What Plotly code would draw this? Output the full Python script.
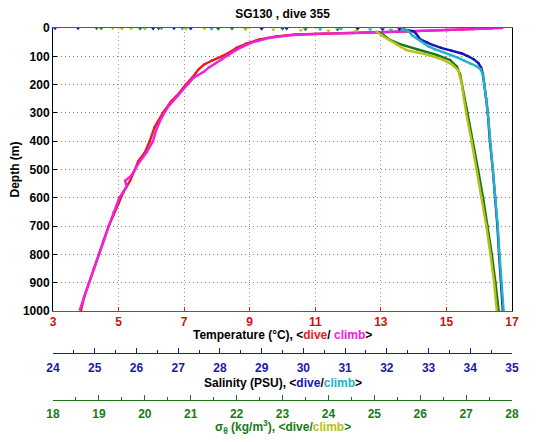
import plotly.graph_objects as go

# ---------------- data ----------------
# Temperature (dive, red)
temp_dive_depth = [1, 4, 8, 12, 16, 19, 23, 30, 40, 55, 70, 85, 100, 115, 130, 145, 160, 175, 200, 230, 260, 300,
                   350, 400, 440, 470, 500, 540, 580, 620, 660, 700, 750, 800, 850, 900, 950, 1000]
temp_dive = [16.4, 15.8, 15.0, 13.9, 12.6, 11.3, 10.4, 9.8, 9.3, 8.9, 8.6, 8.4, 8.15, 7.85, 7.6, 7.45, 7.35, 7.25,
             7.05, 6.85, 6.6, 6.35, 6.1, 5.95, 5.8, 5.6, 5.5, 5.35, 5.15, 5.0, 4.85, 4.7, 4.55, 4.4, 4.25, 4.1, 3.95,
             3.85]
# Temperature (climb, magenta)
temp_climb_depth = [0, 2, 5, 8, 11, 14, 17, 20, 25, 35, 50, 65, 80, 95, 110, 125, 140, 155, 175, 200, 240, 280,
                    320, 360, 400, 440, 480, 520, 540, 560, 600, 650, 700, 750, 800, 850, 900, 950, 995]
temp_climb = [16.7, 16.2, 15.5, 14.8, 14.1, 13.5, 12.5, 11.2, 10.3, 9.6, 9.1, 8.8, 8.55, 8.35, 8.15, 7.95, 7.75,
              7.6, 7.3, 7.1, 6.8, 6.5, 6.3, 6.15, 6.05, 5.85, 5.6, 5.4, 5.2, 5.25, 5.02, 4.85, 4.7, 4.55, 4.4, 4.25,
              4.1, 3.95, 3.82]

# Salinity (dive, blue)
sal_dive_depth = [5, 12, 20, 30, 40, 50, 60, 70, 80, 90, 100, 110, 125, 140, 160, 180, 200, 250, 300, 400, 500,
                  600, 700, 800, 900, 1000]
sal_dive = [32.4, 32.65, 32.7, 32.75, 32.8, 32.95, 33.1, 33.3, 33.55, 33.8, 33.95, 34.08, 34.2, 34.26, 34.3,
            34.32, 34.34, 34.38, 34.42, 34.47, 34.54, 34.6, 34.65, 34.69, 34.74, 34.78]
# Salinity (climb, cyan)
sal_climb_depth = [3, 10, 16, 25, 35, 45, 55, 65, 75, 85, 95, 105, 115, 125, 135, 145, 160, 180, 200, 250, 300,
                   400, 500, 600, 700, 800, 900, 1000]
sal_climb = [32.3, 32.5, 32.55, 32.6, 32.7, 32.8, 32.9, 33.0, 33.15, 33.35, 33.55, 33.7, 33.85, 34.0, 34.15,
             34.24, 34.29, 34.32, 34.34, 34.38, 34.42, 34.48, 34.55, 34.61, 34.66, 34.7, 34.75, 34.8]

# Sigma-theta (dive, green)
sig_dive_depth = [14, 25, 42, 57, 75, 95, 113, 137, 165, 195, 250, 300, 400, 500, 600, 700, 800, 900, 1000]
sig_dive = [25.08, 25.2, 25.34, 25.56, 25.93, 26.36, 26.65, 26.8, 26.87, 26.91, 26.97, 27.03, 27.15, 27.26,
            27.37, 27.47, 27.56, 27.64, 27.71]
# Sigma-theta (climb, yellow)
sig_climb_depth = [12, 25, 40, 60, 78, 95, 113, 130, 150, 195, 250, 300, 400, 500, 600, 700, 800, 900, 1000]
sig_climb = [25.05, 25.15, 25.3, 25.5, 25.7, 26.17, 26.5, 26.7, 26.83, 26.9, 26.95, 27.0, 27.12, 27.23, 27.34,
             27.44, 27.53, 27.61, 27.67]

# Scattered near-surface samples
sal_surf_dive = [24.05, 24.6, 26.4, 26.9, 27.3, 29.0, 29.6, 31.3, 31.9, 32.3]
sal_surf_dive_depth = [1, 1, 2, 1, 2, 3, 2, 3, 4, 4]
sal_surf_climb = [26.2, 26.6, 27.1, 27.8, 28.6, 30.4, 30.9, 31.6, 32.1]
sal_surf_climb_depth = [2, 1, 2, 3, 2, 4, 3, 5, 6]
sig_surf_dive = [18.95, 19.05, 19.9, 20.3, 21.6, 21.9, 23.0, 23.5, 24.2]
sig_surf_dive_depth = [1, 1, 2, 2, 3, 2, 3, 4, 5]
sig_surf_climb = [19.3, 19.5, 19.7, 20.0, 20.9, 21.3, 22.2, 22.8, 23.4, 24.0, 24.6]
sig_surf_climb_depth = [1, 2, 2, 1, 3, 2, 4, 5, 8, 10, 11]

temp_ticks = [3, 5, 7, 9, 11, 13, 15, 17]
sal_ticks = list(range(24, 36))
sig_ticks = list(range(18, 29))
depth_ticks = list(range(0, 1001, 100))

# ---------------- colours ----------------
RED = "#ea1c1c"
MAG = "#ee22dd"
BLUE = "#1616b8"
CYAN = "#22b2c8"
GREEN = "#1a781a"
YEL = "#b8c018"
TRED = "#d01010"
TBLUE = "#1a1aa8"
TGREEN = "#1a7a1a"

FONT = "Liberation Sans"

fig = go.Figure()

def line(x, y, color, xaxis):
    fig.add_trace(go.Scatter(x=x, y=y, mode="lines+markers", xaxis=xaxis, yaxis="y",
                             line=dict(color=color, width=2.4),
                             marker=dict(color=color, size=2.5), showlegend=False))

def pts(x, y, color, xaxis):
    fig.add_trace(go.Scatter(x=x, y=y, mode="markers", xaxis=xaxis, yaxis="y",
                             marker=dict(color=color, size=4, symbol="triangle-down"), showlegend=False))

line(sal_dive, sal_dive_depth, BLUE, "x2")
line(sal_climb, sal_climb_depth, CYAN, "x2")
line(sig_dive, sig_dive_depth, GREEN, "x3")
line(sig_climb, sig_climb_depth, YEL, "x3")
line(temp_dive, temp_dive_depth, RED, "x")
line(temp_climb, temp_climb_depth, MAG, "x")
pts(sal_surf_dive, sal_surf_dive_depth, BLUE, "x2")
pts(sal_surf_climb, sal_surf_climb_depth, CYAN, "x2")
pts(sig_surf_dive, sig_surf_dive_depth, GREEN, "x3")
pts(sig_surf_climb, sig_surf_climb_depth, YEL, "x3")

# The page body has an 8px margin: figure coords = screen coords - 8
OFF = 8
W, H = 543 - OFF, 442 - OFF
ML = 53 - OFF
MR = W - (512 - OFF)
MT = 28 - OFF
MB = 16
PH = H - MT - MB
PW = W - ML - MR

def fy(screen_y):
    return (H - MB - (screen_y - OFF)) / PH

ydom0 = fy(311)
pos_sal = fy(353)
pos_sig = fy(400)

tickfont = lambda c: dict(family=FONT, size=12, color=c, weight="bold")
GRIDDASH = "1px,3px"

fig.update_layout(
    width=W, height=H,
    margin=dict(l=ML, r=MR, t=MT, b=MB, autoexpand=False),
    paper_bgcolor="white", plot_bgcolor="white",
    font=dict(family=FONT, size=12, color="black"),
    title=dict(text="SG130 , dive 355", x=(ML + PW / 2) / W, xanchor="center", y=1 - (14 - OFF) / H,
               yanchor="middle",
               font=dict(family=FONT, size=12, color="black", weight="bold")),
    xaxis=dict(range=[3, 17], tickvals=temp_ticks, domain=[0, 1], anchor="y", automargin=False,
               showline=True, linecolor=RED, linewidth=1, mirror=True,
               ticks="inside", ticklen=4, tickcolor=RED,
               showgrid=True, gridcolor="#d08080", griddash=GRIDDASH, gridwidth=1,
               tickfont=tickfont(TRED), zeroline=False),
    xaxis2=dict(range=[24, 35], tickvals=sal_ticks, overlaying="x", anchor="free", position=pos_sal,
                side="bottom", showline=True, linecolor=TBLUE, linewidth=1, automargin=False,
                ticks="inside", ticklen=5, tickcolor=TBLUE, ticklabelstandoff=4,
                minor=dict(ticks="inside", dtick=0.5, ticklen=3, tickcolor=TBLUE),
                showgrid=False, zeroline=False, tickfont=tickfont(TBLUE)),
    xaxis3=dict(range=[18, 28], tickvals=sig_ticks, overlaying="x", anchor="free", position=pos_sig,
                side="bottom", showline=True, linecolor=TGREEN, linewidth=1, automargin=False,
                ticks="inside", ticklen=5, tickcolor=TGREEN, ticklabelstandoff=3,
                minor=dict(ticks="inside", dtick=0.5, ticklen=3, tickcolor=TGREEN),
                showgrid=False, zeroline=False, tickfont=tickfont(TGREEN)),
    yaxis=dict(range=[1000, 0], tickvals=depth_ticks, domain=[ydom0, 1], anchor="x", automargin=False,
               showline=True, linecolor="black", linewidth=1, mirror=True,
               ticks="inside", ticklen=4, tickcolor="black",
               showgrid=True, gridcolor="#808080", griddash=GRIDDASH, gridwidth=1,
               zeroline=False, tickfont=tickfont("black"),
               title=dict(text="Depth (m)", standoff=4,
                          font=dict(family=FONT, size=12, color="black", weight="bold"))),
)

def ann(text, ypx):
    fig.add_annotation(text=text, xref="paper", yref="paper", x=0.5, y=fy(ypx),
                       xanchor="center", yanchor="middle", showarrow=False,
                       font=dict(family=FONT, size=12, color="black", weight="bold"))

ann("Temperature (°C), &lt;<span style='color:%s'>dive</span>/ <span style='color:%s'>climb</span>&gt;"
    % (RED, MAG), 335)
ann("<span style='color:black'>Salinity (PSU), &lt;</span><span style='color:%s'>dive</span>/"
    "<span style='color:%s'>climb</span>&gt;" % (BLUE, CYAN), 383)
ann("<span style='color:%s'>σ<sub>θ</sub> (kg/m<sup>3</sup>), &lt;dive/</span><span style='color:%s'>climb</span>"
    "<span style='color:%s'>&gt;</span>" % (TGREEN, YEL, TGREEN), 427)

fig.write_html("out.html")
